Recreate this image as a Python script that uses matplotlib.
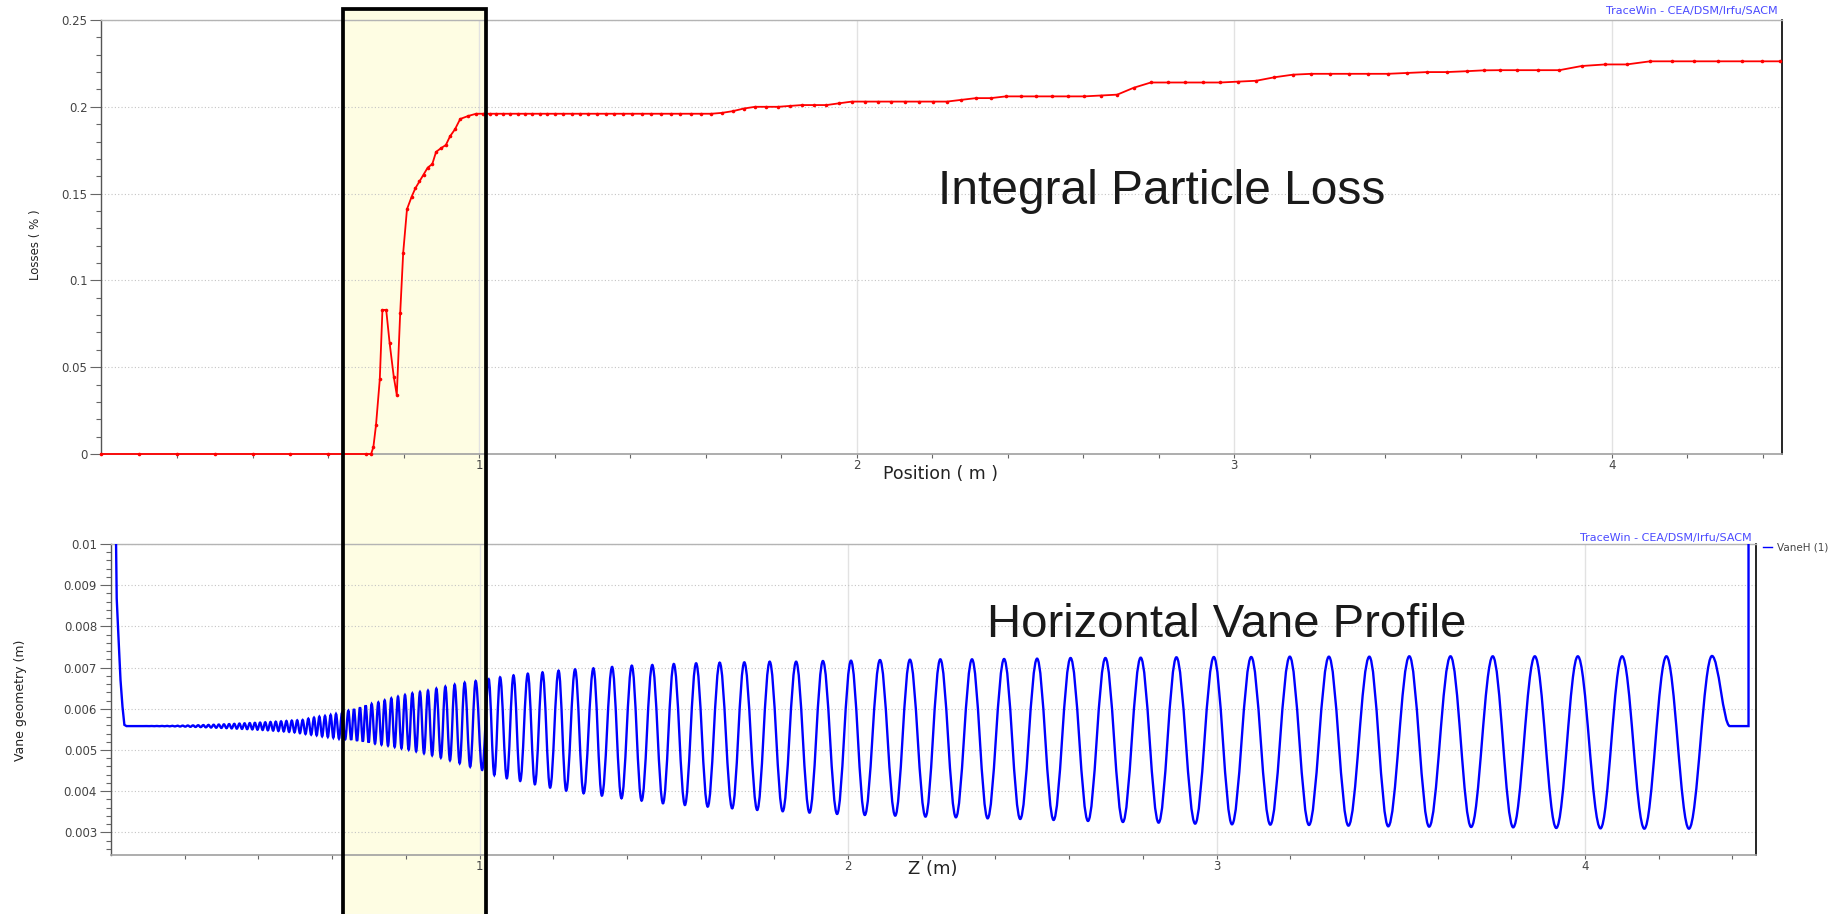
import matplotlib
matplotlib.use('Agg')
import matplotlib.pyplot as plt
from matplotlib.path import Path
from matplotlib.patches import PathPatch, Rectangle
from matplotlib.lines import Line2D
from matplotlib.ticker import FixedLocator, FixedFormatter

# ---------------- data: integral particle loss ----------------
loss_x = [0.0, 0.1, 0.2, 0.3, 0.4, 0.5, 0.6, 0.7, 0.714,
          0.720, 0.727, 0.737, 0.744, 0.754, 0.763, 0.774, 0.782, 0.791, 0.799,
          0.809, 0.821, 0.831, 0.842, 0.853, 0.864, 0.876, 0.886, 0.898, 0.912,
          0.923, 0.936, 0.950, 0.971, 0.992,
          1.010, 1.028, 1.046, 1.064, 1.083, 1.102, 1.121, 1.141, 1.161, 1.181,
          1.202, 1.223, 1.245, 1.267, 1.289, 1.312, 1.335, 1.358, 1.382, 1.406,
          1.431, 1.456, 1.481, 1.507,
          1.533, 1.560, 1.587, 1.615, 1.643, 1.672, 1.701, 1.731, 1.761, 1.792,
          1.823, 1.855, 1.887, 1.920, 1.953, 1.987,
          2.021, 2.056, 2.091, 2.127, 2.164, 2.201, 2.239, 2.277, 2.316, 2.355,
          2.395, 2.435, 2.476,
          2.518, 2.560, 2.603, 2.646, 2.690, 2.734, 2.779, 2.824, 2.870, 2.916, 2.963,
          3.010, 3.058, 3.106, 3.155, 3.204, 3.254, 3.304, 3.355, 3.406, 3.458,
          3.510, 3.562, 3.615, 3.660,
          3.704, 3.748, 3.803, 3.861, 3.920, 3.982, 4.039, 4.101, 4.158, 4.218,
          4.282, 4.344, 4.397, 4.445]
loss_y = [0, 0, 0, 0, 0, 0, 0, 0, 0,
          0.004, 0.0167, 0.043, 0.083, 0.083, 0.064, 0.0445, 0.034, 0.081, 0.116,
          0.141, 0.148, 0.153, 0.157, 0.161, 0.165, 0.167, 0.174, 0.176, 0.178,
          0.183, 0.187, 0.193, 0.1947, 0.196,
          0.196, 0.196, 0.196, 0.196, 0.196, 0.196, 0.196, 0.196, 0.196, 0.196,
          0.196, 0.196, 0.196, 0.196, 0.196, 0.196, 0.196, 0.196, 0.196, 0.196,
          0.196, 0.196, 0.196, 0.196,
          0.196, 0.196, 0.196, 0.196, 0.1965, 0.1975, 0.199, 0.200, 0.200, 0.200,
          0.2005, 0.201, 0.201, 0.201, 0.202, 0.203,
          0.203, 0.203, 0.203, 0.203, 0.203, 0.203, 0.203, 0.204, 0.205, 0.205,
          0.206, 0.206, 0.206,
          0.206, 0.206, 0.206, 0.2065, 0.207, 0.211, 0.214, 0.214, 0.214, 0.214, 0.214,
          0.2145, 0.215, 0.217, 0.2185, 0.219, 0.219, 0.219, 0.219, 0.219, 0.2195,
          0.220, 0.220, 0.2205, 0.221,
          0.2211, 0.2211, 0.2211, 0.2211, 0.2235, 0.2244, 0.2244, 0.2262, 0.2262, 0.2262,
          0.2262, 0.2262, 0.2262, 0.2262]

loss_yticks = [0, 0.05, 0.1, 0.15, 0.2, 0.25]
loss_yticklabels = ['0', '0.05', '0.1', '0.15', '0.2', '0.25']

# ---------------- data: horizontal vane profile ----------------
vane_entry_x = [0.0136, 0.0155, 0.0198, 0.0258, 0.0312, 0.0363, 0.042, 0.0895]
vane_entry_y = [0.0101, 0.00868, 0.00783, 0.0067, 0.00605, 0.00561, 0.00558, 0.00558]

vane_peak_x = [0.0965, 0.1105, 0.1245, 0.1385, 0.1525, 0.1665, 0.1805, 0.1945, 0.2085, 0.2225,
               0.2365, 0.2505, 0.2645, 0.2785, 0.2925, 0.3065, 0.3205, 0.3345, 0.3485, 0.3625,
               0.3765, 0.3905, 0.4045, 0.4186, 0.4328, 0.4471, 0.4615, 0.4760, 0.4906, 0.5053,
               0.5201, 0.5355, 0.5509, 0.5654, 0.5807, 0.5961, 0.6106, 0.6269, 0.6441, 0.6594,
               0.6757, 0.6911, 0.7074, 0.7255, 0.7427, 0.7607, 0.7788, 0.7978, 0.8177, 0.8385,
               0.8602, 0.8829, 0.9073, 0.9326, 0.9597, 0.9896, 1.0249,
               1.0559, 1.0923, 1.1311, 1.1710, 1.2146, 1.2594, 1.3091, 1.3598, 1.4133, 1.4689,
               1.5273, 1.5878, 1.6518, 1.7186, 1.7875, 1.8592, 1.9319, 2.0081, 2.0868, 2.1680,
               2.2505, 2.3365, 2.4236, 2.5131, 2.6040, 2.6985, 2.7943, 2.8912,
               2.9927, 3.0942, 3.1989, 3.3050, 3.4147, 3.5232, 3.6350, 3.7496, 3.8638, 3.9805,
               4.1007, 4.2209, 4.3446]
vane_peak_y = [0.005581, 0.005582, 0.005583, 0.005584, 0.005585, 0.005587, 0.005589, 0.005591,
               0.005594, 0.005597, 0.005601, 0.005605, 0.005609, 0.005613, 0.005618, 0.005623,
               0.005629, 0.005635, 0.005641, 0.005647, 0.005653, 0.005659, 0.005665, 0.005672,
               0.005679, 0.005687, 0.005695, 0.005704, 0.005713, 0.005720,
               0.005728, 0.005760, 0.005785, 0.005809, 0.005825, 0.005850, 0.005874, 0.005900,
               0.005955, 0.005995, 0.006036, 0.006084, 0.006117, 0.006157, 0.006206, 0.006254,
               0.006294, 0.006335, 0.006375, 0.006408, 0.006440, 0.006489, 0.006537, 0.006586,
               0.006634, 0.006675, 0.006720,
               0.006764, 0.006812, 0.006853, 0.006885, 0.006926, 0.006958, 0.006982, 0.007015,
               0.007047, 0.007063, 0.007087, 0.007104, 0.007120, 0.007128, 0.007144, 0.007144,
               0.007160, 0.007168, 0.007184, 0.007192, 0.007201, 0.007201, 0.007209, 0.007217,
               0.007233, 0.007233, 0.007241, 0.007250,
               0.007257, 0.007257, 0.007265, 0.007265, 0.007265, 0.007274, 0.007274, 0.007274,
               0.007274, 0.007274, 0.007274, 0.007274, 0.007282]

vane_trough_x = [0.1035, 0.1175, 0.1315, 0.1455, 0.1595, 0.1735, 0.1875, 0.2015, 0.2155, 0.2295,
                 0.2435, 0.2575, 0.2715, 0.2855, 0.2995, 0.3135, 0.3275, 0.3415, 0.3555, 0.3695,
                 0.3835, 0.3975, 0.4115, 0.4257, 0.4400, 0.4543, 0.4688, 0.4833, 0.4980, 0.5127,
                 0.5278, 0.5432, 0.5581, 0.5730, 0.5884, 0.6033, 0.6187, 0.6355, 0.6517, 0.6676,
                 0.6834, 0.6992, 0.7164, 0.7341, 0.7517, 0.7698, 0.7883, 0.8078, 0.8281, 0.8494,
                 0.8715, 0.8951, 0.9199, 0.9462, 0.9747, 1.0072,
                 1.0402, 1.0741, 1.1104, 1.1503, 1.1916, 1.2352, 1.2825, 1.3321, 1.3853, 1.4399,
                 1.4979, 1.5574, 1.6193, 1.6857, 1.7536, 1.8228, 1.8955, 1.9704, 2.0456, 2.1281,
                 2.2103, 2.2928, 2.3789, 2.4673, 2.5579, 2.6513, 2.7460, 2.8429,
                 2.942, 3.042, 3.146, 3.251, 3.358, 3.466, 3.577, 3.691, 3.805, 3.922,
                 4.042, 4.161, 4.282]
vane_trough_y = [0.005579, 0.005578, 0.005577, 0.005576, 0.005574, 0.005572, 0.005570, 0.005567,
                 0.005563, 0.005559, 0.005555, 0.005550, 0.005545, 0.005540, 0.005535, 0.005530,
                 0.005524, 0.005518, 0.005512, 0.005506, 0.005500, 0.005493, 0.005486, 0.005478,
                 0.005470, 0.005461, 0.005451, 0.005440, 0.005428, 0.005410,
                 0.005388, 0.005372, 0.005356, 0.005332, 0.005316, 0.005299, 0.005275, 0.005259,
                 0.005243, 0.005218, 0.005202, 0.005178, 0.005154, 0.005129, 0.005105, 0.005073,
                 0.005040, 0.005008, 0.004968, 0.004919, 0.004871, 0.004814, 0.004749, 0.004677,
                 0.004595, 0.004515,
                 0.004393, 0.004313, 0.004248, 0.004167, 0.004086, 0.004013, 0.003948, 0.003892,
                 0.003827, 0.003770, 0.003706, 0.003665, 0.003625, 0.003584, 0.003544, 0.003512,
                 0.003479, 0.003447, 0.003422, 0.003406, 0.003382, 0.003366, 0.003341, 0.003325,
                 0.003301, 0.003277, 0.003252, 0.003236,
                 0.003212, 0.003196, 0.003188, 0.003180, 0.003163, 0.003147, 0.003139, 0.003131,
                 0.003123, 0.003107, 0.003098, 0.003090, 0.003090]

vane_exit_x = [4.393, 4.4437, 4.4437]
vane_exit_y = [0.00558, 0.00558, 0.0101]

vane_yticks = [0.003, 0.004, 0.005, 0.006, 0.007, 0.008, 0.009, 0.010]
vane_yticklabels = ['0.003', '0.004', '0.005', '0.006', '0.007', '0.008', '0.009', '0.01']

x_major = [1, 2, 3, 4]
x_labels = ['1', '2', '3', '4']
x_minor = [0.2, 0.4, 0.6, 0.8, 1.2, 1.4, 1.6, 1.8, 2.2, 2.4, 2.6, 2.8,
           3.2, 3.4, 3.6, 3.8, 4.2, 4.4]

# ---------------- figure ----------------
W, H = 1831, 914
fig = plt.figure(figsize=(W / 100, H / 100), dpi=100)
fig.patch.set_facecolor('white')


def fx(p):
    return p / W


def fy(p):
    return 1 - p / H


ax1 = fig.add_axes([fx(101.5), fy(454), fx(1782) - fx(101.5), fy(20) - fy(454)])
ax2 = fig.add_axes([fx(111), fy(855), fx(1756) - fx(111), fy(544) - fy(855)])

tick_color = '#444444'
for ax in (ax1, ax2):
    ax.set_facecolor('none')
    ax.spines['right'].set_color('black')
    ax.spines['right'].set_linewidth(1.2)
    ax.spines['top'].set_color('#b4b4b4')
    ax.spines['top'].set_linewidth(1.0)
    ax.spines['bottom'].set_color('#a0a0a0')
    ax.spines['bottom'].set_linewidth(1.2)
    ax.spines['left'].set_color('#555555')
    ax.spines['left'].set_linewidth(1.0)
    ax.xaxis.set_major_locator(FixedLocator(x_major))
    ax.xaxis.set_major_formatter(FixedFormatter(x_labels))
    ax.xaxis.set_minor_locator(FixedLocator(x_minor))
    ax.tick_params(axis='x', which='both', direction='out', length=3, width=0.8,
                   color='#666666', labelcolor=tick_color, labelsize=8.5, pad=0.5)
    ax.tick_params(axis='y', which='major', direction='out', length=8, width=0.8,
                   color='#666666', labelcolor=tick_color, labelsize=8.5, pad=2)
    ax.tick_params(axis='y', which='minor', direction='out', length=3.3, width=0.8,
                   color='#666666')
    ax.grid(True, axis='x', which='major', color='#e2e2e2', linewidth=1.0, linestyle='-')
    ax.grid(True, axis='y', which='major', color='#c4c4c4', linewidth=0.8,
            linestyle=(0, (1, 2)))
    ax.set_axisbelow(True)

# --- top: losses ---
ax1.plot(loss_x, loss_y, color='#ff0000', linewidth=1.3, marker='o', markersize=2.6,
         markeredgewidth=0, clip_on=False, zorder=3)
ax1.set_xlim(0, 4.4505)
ax1.set_ylim(0, 0.25)
ax1.yaxis.set_major_locator(FixedLocator(loss_yticks))
ax1.yaxis.set_major_formatter(FixedFormatter(loss_yticklabels))
ax1.yaxis.set_minor_locator(FixedLocator([i * 0.01 for i in range(26)]))

# --- bottom: vane profile ---
ext = sorted(zip(vane_peak_x + vane_trough_x, vane_peak_y + vane_trough_y))
verts = [(vane_entry_x[0], vane_entry_y[0])]
codes = [Path.MOVETO]
for xx, yy in zip(vane_entry_x[1:], vane_entry_y[1:]):
    verts.append((xx, yy))
    codes.append(Path.LINETO)
k = 0.3642
x0, y0 = vane_entry_x[-1], vane_entry_y[-1]
for x1, y1 in ext + [(vane_exit_x[0], vane_exit_y[0])]:
    dx = x1 - x0
    verts += [(x0 + k * dx, y0), (x1 - k * dx, y1), (x1, y1)]
    codes += [Path.CURVE4] * 3
    x0, y0 = x1, y1
for xx, yy in zip(vane_exit_x[1:], vane_exit_y[1:]):
    verts.append((xx, yy))
    codes.append(Path.LINETO)
vane_patch = PathPatch(Path(verts, codes), facecolor='none', edgecolor='#0000ff',
                       linewidth=1.7, zorder=3)
ax2.add_patch(vane_patch)
ax2.set_xlim(0, 4.464)
ax2.set_ylim(0.002451, 0.01)
ax2.yaxis.set_major_locator(FixedLocator(vane_yticks))
ax2.yaxis.set_major_formatter(FixedFormatter(vane_yticklabels))
ax2.yaxis.set_minor_locator(FixedLocator([0.0026 + i * 0.0002 for i in range(38)]))

# --- axis labels ---
lab = dict(family='DejaVu Sans', color='#222222')
fig.text(fx(36), fy(245), 'Losses ( % )', rotation=90, ha='center', va='center',
         fontsize=8.5, **lab)
fig.text(fx(21), fy(700), 'Vane geometry (m)', rotation=90, ha='center', va='center',
         fontsize=9, **lab)
fig.text(fx(941), fy(474), 'Position ( m )', ha='center', va='center', fontsize=12.5, **lab)
fig.text(fx(933), fy(869), 'Z (m)', ha='center', va='center', fontsize=13, **lab)

# --- TraceWin credits & legend ---
fig.text(fx(1778), fy(11), 'TraceWin - CEA/DSM/Irfu/SACM', ha='right', va='center',
         fontsize=8, color='#4a4aff')
fig.text(fx(1752), fy(538), 'TraceWin - CEA/DSM/Irfu/SACM', ha='right', va='center',
         fontsize=8, color='#4a4aff')
fig.add_artist(Line2D([fx(1763), fx(1772)], [fy(547), fy(547)], color='#0000ff',
                      linewidth=1.0, transform=fig.transFigure))
fig.text(fx(1777), fy(547), 'VaneH (1)', ha='left', va='center', fontsize=7.5,
         color='#444444')

# --- slide annotations ---
fig.text(fx(938), fy(204), 'Integral Particle Loss', ha='left', va='baseline',
         fontsize=34.5, family='Liberation Sans', color='#1a1a1a')
fig.text(fx(987), fy(637), 'Horizontal Vane Profile', ha='left', va='baseline',
         fontsize=34, family='Liberation Sans', color='#1a1a1a')

# --- highlight box ---
bx0, bx1 = fx(343.5), fx(486)
by0, by1 = -0.02, fy(8.5)
fig.add_artist(Rectangle((bx0, by0), bx1 - bx0, by1 - by0, transform=fig.transFigure,
                         facecolor='#fefde3', edgecolor='none', zorder=-1))
fig.add_artist(Rectangle((bx0, by0), bx1 - bx0, by1 - by0, transform=fig.transFigure,
                         facecolor='none', edgecolor='black', linewidth=2.7, zorder=10))

fig.savefig('out.png', dpi=100, facecolor='white')
